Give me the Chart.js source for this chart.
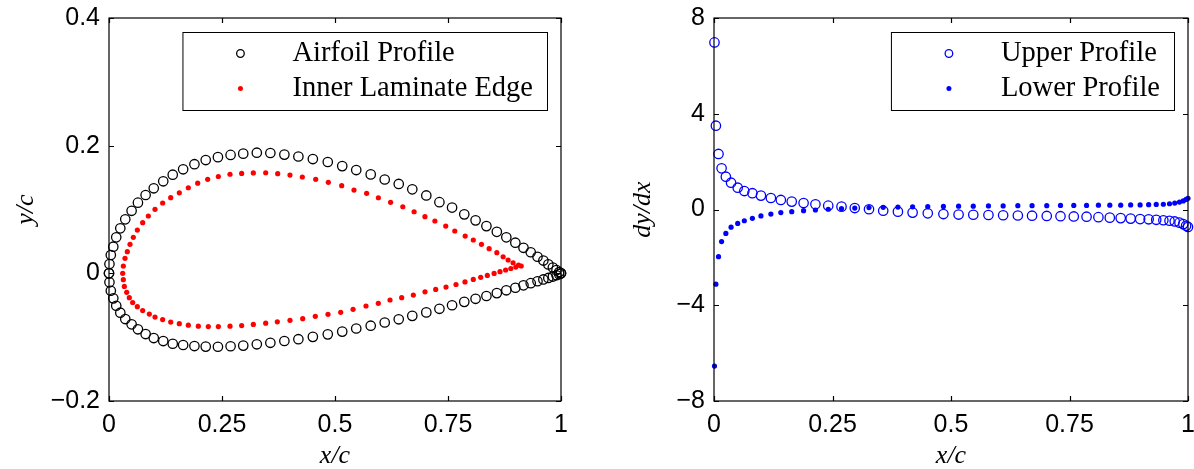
<!DOCTYPE html>
<html>
<head>
<meta charset="utf-8">
<script src="https://cdn.jsdelivr.net/npm/chart.js@4.4.1/dist/chart.umd.min.js"></script>
<style>
  html, body { margin: 0; padding: 0; background: #fff; }
  #wrap { position: relative; width: 1194px; height: 469px; }
  .panel { position: absolute; top: 0; width: 597px; height: 469px; }
  #left { left: 0; }
  #right { left: 597px; }
</style>
</head>
<body>
<div id="wrap">
  <div class="panel" id="left"><canvas id="profileChart"></canvas></div>
  <div class="panel" id="right"><canvas id="slopeChart"></canvas></div>
</div>
<script>
// chordwise stations (shared by upper / lower surface and the slope plot)
const xc = [0, 0.001, 0.004, 0.0095, 0.016, 0.025, 0.036, 0.05, 0.064, 0.081, 0.099, 0.12, 0.141, 0.164, 0.189, 0.214, 0.241, 0.269, 0.297, 0.327, 0.357, 0.388, 0.419, 0.451, 0.484, 0.516, 0.547, 0.579, 0.61, 0.641, 0.671, 0.702, 0.731, 0.759, 0.786, 0.811, 0.835, 0.858, 0.879, 0.899, 0.917, 0.933, 0.948, 0.961, 0.972, 0.982, 0.99, 0.996, 1];
const yUpper = [0, 0.0146, 0.0287, 0.0417, 0.0564, 0.0705, 0.0846, 0.098, 0.1107, 0.1227, 0.1332, 0.1442, 0.1545, 0.163, 0.171, 0.1775, 0.182, 0.1855, 0.1875, 0.189, 0.1885, 0.186, 0.183, 0.179, 0.1744, 0.168, 0.1618, 0.155, 0.147, 0.14, 0.1316, 0.122, 0.1115, 0.103, 0.0924, 0.083, 0.074, 0.065, 0.0564, 0.048, 0.04, 0.033, 0.026, 0.02, 0.014, 0.009, 0.005, 0.002, 0];
const yLower = [0, -0.0141, -0.0273, -0.0392, -0.0508, -0.0617, -0.0716, -0.0799, -0.0877, -0.0951, -0.1014, -0.1061, -0.1103, -0.1123, -0.1139, -0.1148, -0.115, -0.1142, -0.1132, -0.1112, -0.1088, -0.106, -0.1032, -0.0995, -0.0956, -0.0913, -0.0864, -0.082, -0.077, -0.072, -0.0666, -0.0612, -0.0556, -0.05, -0.0447, -0.0399, -0.0355, -0.031, -0.0266, -0.0226, -0.0188, -0.0154, -0.0124, -0.0096, -0.0072, -0.005, -0.003, -0.0013, 0];

// inner laminate edge
const innerUpperX = [0.0303, 0.0317, 0.0354, 0.0405, 0.0465, 0.0538, 0.0627, 0.0745, 0.087, 0.1018, 0.1187, 0.1365, 0.1556, 0.1755, 0.1962, 0.2183, 0.2419, 0.2677, 0.2935, 0.3193, 0.3467, 0.3732, 0.4004, 0.4277, 0.4573, 0.4852, 0.5148, 0.542, 0.57, 0.596, 0.623, 0.65, 0.675, 0.699, 0.721, 0.745, 0.765, 0.788, 0.806, 0.824, 0.841, 0.858, 0.872, 0.883, 0.894, 0.906, 0.912];
const innerUpperY = [0, 0.0114, 0.0235, 0.0339, 0.0454, 0.0564, 0.0678, 0.0793, 0.0898, 0.1003, 0.1102, 0.1185, 0.1262, 0.1341, 0.1412, 0.1472, 0.1517, 0.1552, 0.1565, 0.1573, 0.1576, 0.1562, 0.154, 0.1509, 0.1473, 0.1426, 0.1374, 0.1305, 0.1253, 0.1184, 0.1112, 0.1043, 0.0965, 0.0887, 0.082, 0.074, 0.0663, 0.0584, 0.0522, 0.0454, 0.0386, 0.0323, 0.026, 0.0209, 0.0166, 0.013, 0.0115];
const innerLowerX = [0.0317, 0.0339, 0.0392, 0.0449, 0.0524, 0.0627, 0.0745, 0.0892, 0.1018, 0.1187, 0.1365, 0.1556, 0.1755, 0.1976, 0.2197, 0.2419, 0.2677, 0.2935, 0.3193, 0.3467, 0.3724, 0.4004, 0.4285, 0.4564, 0.4845, 0.5126, 0.54, 0.5686, 0.5958, 0.6217, 0.6475, 0.6733, 0.6991, 0.7228, 0.7456, 0.7677, 0.7876, 0.806, 0.8223, 0.837, 0.852, 0.865, 0.8775, 0.889, 0.9];
const innerLowerY = [-0.01, -0.0205, -0.0298, -0.0382, -0.0457, -0.0523, -0.0583, -0.0638, -0.0685, -0.0724, -0.0763, -0.0789, -0.0812, -0.0828, -0.0834, -0.0834, -0.0828, -0.0818, -0.08, -0.0781, -0.076, -0.0736, -0.0711, -0.0674, -0.0642, -0.0611, -0.0564, -0.0512, -0.047, -0.0418, -0.0382, -0.034, -0.029, -0.0252, -0.0215, -0.0175, -0.0135, -0.0096, -0.0062, -0.0032, -0.0002, 0.0026, 0.0052, 0.0076, 0.0098];

// surface slopes dy/dx at xc (none at the leading edge)
const slopeUpper = [null, 6.98, 3.5, 2.32, 1.72, 1.37, 1.12, 0.91, 0.77, 0.68, 0.58, 0.48, 0.4, 0.33, 0.27, 0.22, 0.16, 0.12, 0.06, 0.01, -0.05, -0.09, -0.13, -0.16, -0.19, -0.21, -0.22, -0.23, -0.24, -0.25, -0.26, -0.27, -0.28, -0.29, -0.3, -0.32, -0.34, -0.36, -0.38, -0.4, -0.41, -0.43, -0.45, -0.47, -0.5, -0.55, -0.61, -0.68, -0.73];
const slopeLower = [null, -6.54, -3.12, -1.97, -1.34, -1.0, -0.74, -0.58, -0.47, -0.37, -0.27, -0.19, -0.13, -0.09, -0.05, -0.02, 0.01, 0.04, 0.06, 0.08, 0.09, 0.1, 0.11, 0.12, 0.13, 0.14, 0.14, 0.15, 0.15, 0.16, 0.16, 0.16, 0.17, 0.17, 0.17, 0.18, 0.18, 0.18, 0.19, 0.19, 0.2, 0.21, 0.22, 0.24, 0.27, 0.31, 0.36, 0.42, 0.47];

// tick labels
const xTicks = [0, 0.25, 0.5, 0.75, 1];
const profileYTicks = [-0.2, 0, 0.2, 0.4];
const slopeYTicks = [-8, -4, 0, 4, 8];

const SANS = '"Liberation Sans", Arial, Helvetica, sans-serif';
const SERIF = '"Liberation Serif", "Times New Roman", serif';

function pts(xs, ys) {
  return xs.map((x, i) => ({ x, y: ys[i] })).filter(p => p.y !== null);
}

const minus = v => String(v).replace('-', '\u2212');

// box round the plot with inward ticks on all four sides (matlab look)
const framePlugin = {
  id: 'frame',
  afterDatasetsDraw(chart) {
    const { ctx, chartArea: a, scales: { x, y } } = chart;
    const len = 5;
    ctx.save();
    ctx.strokeStyle = '#000';
    ctx.lineWidth = 1.2;
    ctx.beginPath();
    x.ticks.forEach(t => {
      const px = Math.round(x.getPixelForValue(t.value)) + 0.5;
      ctx.moveTo(px, a.bottom); ctx.lineTo(px, a.bottom - len);
      ctx.moveTo(px, a.top); ctx.lineTo(px, a.top + len);
    });
    y.ticks.forEach(t => {
      const py = Math.round(y.getPixelForValue(t.value)) + 0.5;
      ctx.moveTo(a.left, py); ctx.lineTo(a.left + len, py);
      ctx.moveTo(a.right, py); ctx.lineTo(a.right - len, py);
    });
    ctx.stroke();
    ctx.strokeRect(a.left, a.top, a.right - a.left, a.bottom - a.top);
    ctx.restore();
  }
};

// boxed legend in the top right corner of the plot
const legendPlugin = {
  id: 'boxLegend',
  afterDraw(chart, args, opts) {
    const { ctx, chartArea: a } = chart;
    const sets = chart.data.datasets;
    ctx.save();
    ctx.font = opts.font;
    const textW = Math.max(...sets.map(d => ctx.measureText(d.label).width));
    const w = 110 + textW + 14, h = 78;
    const left = a.right - 14 - w, top = a.top + 14;
    ctx.fillStyle = '#fff';
    ctx.fillRect(left, top, w, h);
    ctx.strokeStyle = '#000';
    ctx.lineWidth = 1;
    ctx.strokeRect(left + 0.5, top + 0.5, w, h);
    sets.forEach((d, i) => {
      const cy = top + 21.5 + i * 35;
      const cx = left + 58;
      ctx.beginPath();
      if (d.pointBackgroundColor === 'transparent') {
        ctx.arc(cx, cy, 3.8, 0, Math.PI * 2);
        ctx.strokeStyle = d.pointBorderColor;
        ctx.lineWidth = 1.3;
        ctx.stroke();
      } else {
        ctx.arc(cx, cy, 2.5, 0, Math.PI * 2);
        ctx.fillStyle = d.pointBackgroundColor;
        ctx.fill();
      }
      ctx.fillStyle = '#000';
      ctx.textBaseline = 'middle';
      ctx.textAlign = 'left';
      ctx.fillText(d.label, left + 110, cy);
    });
    ctx.restore();
  }
};

function xScale(height) {
  return {
    type: 'linear', min: 0, max: 1,
    afterBuildTicks: s => { s.ticks = xTicks.map(v => ({ value: v })); },
    afterFit: s => { s.height = height; s.paddingLeft = 0; s.paddingRight = 0; },
    grid: { display: false, drawTicks: false },
    border: { display: false },
    ticks: { font: { family: SANS, size: 25 }, color: '#000', padding: 9, maxRotation: 0, autoSkip: false, callback: v => minus(v) },
    title: { display: true, text: 'x/c', color: '#000', font: { family: SERIF, size: 26, style: 'italic', lineHeight: 1 }, padding: { top: 0, bottom: 0 } }
  };
}

function yScale(min, max, ticks, width, title, titlePad) {
  return {
    type: 'linear', min, max,
    afterBuildTicks: s => { s.ticks = ticks.map(v => ({ value: v })); },
    afterFit: s => { s.width = width; s.paddingTop = 0; s.paddingBottom = 0; },
    grid: { display: false, drawTicks: false },
    border: { display: false },
    ticks: { font: { family: SANS, size: 25 }, color: '#000', padding: 9, autoSkip: false, callback: v => minus(v) },
    title: { display: true, text: title, color: '#000', font: { family: SERIF, size: 26, style: 'italic', lineHeight: 1 }, padding: { top: titlePad, bottom: 0 } }
  };
}

const common = {
  responsive: true,
  maintainAspectRatio: false,
  animation: false,
  events: [],
  plugins: { legend: { display: false }, tooltip: { enabled: false } }
};

new Chart(document.getElementById('profileChart'), {
  type: 'scatter',
  data: {
    datasets: [
      {
        label: 'Airfoil Profile',
        data: [...pts(xc, yUpper), ...pts(xc, yLower)],
        order: 1, clip: false,
        pointRadius: 4.7, pointBorderWidth: 1.3,
        pointBorderColor: '#000', pointBackgroundColor: 'transparent'
      },
      {
        label: 'Inner Laminate Edge',
        data: [...pts(innerUpperX, innerUpperY), ...pts(innerLowerX, innerLowerY)],
        order: 0, clip: false,
        pointRadius: 2.6, pointBorderWidth: 0,
        pointBorderColor: '#ff0000', pointBackgroundColor: '#ff0000'
      }
    ]
  },
  options: {
    ...common,
    layout: { padding: { left: 0, right: 36, top: 18, bottom: 0 } },
    plugins: { ...common.plugins, boxLegend: { font: '28.5px ' + SERIF } },
    scales: {
      x: xScale(68),
      y: yScale(-0.2, 0.4, profileYTicks, 109, 'y/c', 13)
    }
  },
  plugins: [framePlugin, legendPlugin]
});

new Chart(document.getElementById('slopeChart'), {
  type: 'scatter',
  data: {
    datasets: [
      {
        label: 'Upper Profile',
        data: pts(xc, slopeUpper),
        order: 1, clip: false,
        pointRadius: 4.7, pointBorderWidth: 1.3,
        pointBorderColor: '#0000ff', pointBackgroundColor: 'transparent'
      },
      {
        label: 'Lower Profile',
        data: pts(xc, slopeLower),
        order: 0, clip: false,
        pointRadius: 2.6, pointBorderWidth: 0,
        pointBorderColor: '#0000ff', pointBackgroundColor: '#0000ff'
      }
    ]
  },
  options: {
    ...common,
    layout: { padding: { left: 0, right: 6, top: 18, bottom: 0 } },
    plugins: { ...common.plugins, boxLegend: { font: '28.5px ' + SERIF } },
    scales: {
      x: xScale(68),
      y: yScale(-8, 8, slopeYTicks, 117, 'dy/dx', 33)
    }
  },
  plugins: [framePlugin, legendPlugin]
});
</script>
</body>
</html>
